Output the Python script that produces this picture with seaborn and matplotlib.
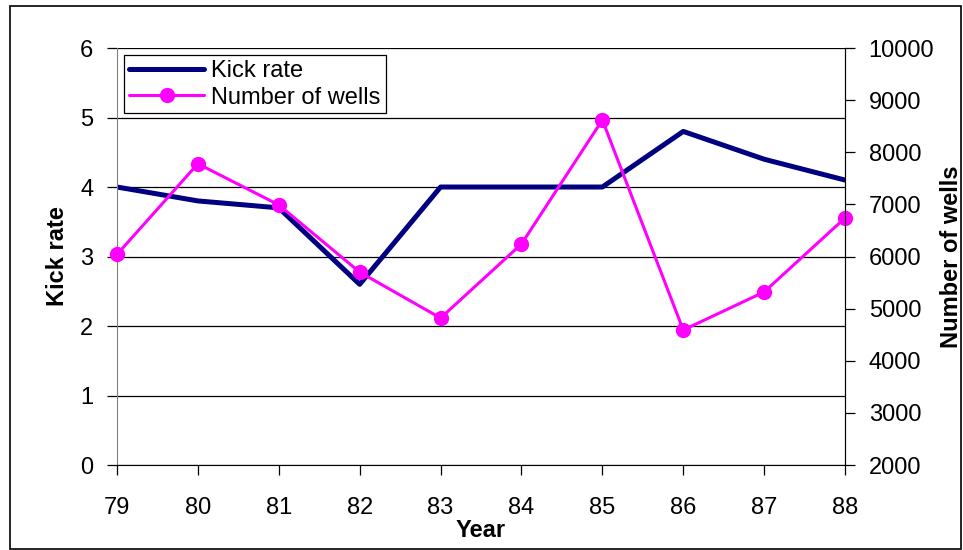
import numpy as np
import pandas as pd
import seaborn as sns
import matplotlib.pyplot as plt
from matplotlib.patches import Rectangle

years = [79, 80, 81, 82, 83, 84, 85, 86, 87, 88]
kick_rate = [4.0, 3.8, 3.7, 2.6, 4.0, 4.0, 4.0, 4.8, 4.4, 4.1]
wells = [6040, 7780, 6990, 5700, 4820, 6240, 8620, 4590, 5320, 6740]

df = pd.DataFrame({'Year': years, 'Kick rate': kick_rate, 'Number of wells': wells})

sns.set_style('white')
plt.rcParams['font.family'] = ['Liberation Sans', 'DejaVu Sans']
plt.rcParams['text.color'] = 'black'
plt.rcParams['axes.labelcolor'] = 'black'
plt.rcParams['xtick.color'] = 'black'
plt.rcParams['ytick.color'] = 'black'

fig = plt.figure(figsize=(9.63, 5.5), dpi=100)
ax = fig.add_axes([0.1215, 0.1545, 0.756, 0.7582])
ax2 = ax.twinx()

sns.lineplot(data=df, x='Year', y='Kick rate', ax=ax, color='#000080',
             linewidth=3.6, label='Kick rate', legend=False)
sns.lineplot(data=df, x='Year', y='Number of wells', ax=ax2, color='#ff00ff',
             linewidth=2.2, marker='o', markersize=11, markeredgewidth=0,
             label='Number of wells', legend=False, clip_on=False)

ax.set_xlim(79, 88)
ax.set_ylim(0, 6)
ax2.set_ylim(2000, 10000)
ax.set_xticks(years)
ax.set_yticks(range(0, 7))
ax2.set_yticks(range(2000, 10001, 1000))

ax.yaxis.grid(True, color='black', linewidth=0.9)
ax.xaxis.grid(False)
ax2.grid(False)

for a in (ax, ax2):
    a.spines['top'].set_visible(False)
ax.spines['left'].set_color('#808080')
ax.spines['bottom'].set_color('black')
ax2.spines['right'].set_color('black')
ax2.spines['left'].set_visible(False)
ax2.spines['bottom'].set_visible(False)

ax.tick_params(axis='y', direction='out', length=7, width=0.9, labelsize=17,
               left=True, pad=10)
ax.tick_params(axis='x', direction='out', length=7, width=0.9, labelsize=17,
               bottom=True, pad=16)
ax2.tick_params(axis='y', direction='out', length=7, width=0.9, labelsize=17,
                right=True, pad=10)

ax.set_xlabel('Year', fontsize=17, fontweight='bold', labelpad=0)
ax.set_ylabel('Kick rate', fontsize=17, fontweight='bold', labelpad=8)
ax2.set_ylabel('Number of wells', fontsize=17, fontweight='bold', labelpad=4)

h1, l1 = ax.get_legend_handles_labels()
h2, l2 = ax2.get_legend_handles_labels()
leg = ax2.legend(h1 + h2, l1 + l2, loc='upper left', bbox_to_anchor=(0.0, 1.0),
                 fontsize=17, frameon=True, fancybox=False, framealpha=1,
                 edgecolor='black', borderpad=0.2, labelspacing=0.2,
                 handlelength=3.2, handletextpad=0.3, borderaxespad=0.3)
leg.get_frame().set_linewidth(0.9)

fig.patches.append(Rectangle((10 / 963, 0.001), 951 / 963, 1 - 6 / 550 - 0.001,
                             transform=fig.transFigure, fill=False,
                             edgecolor='black', linewidth=1.2))

fig.savefig('out.png', dpi=100)
